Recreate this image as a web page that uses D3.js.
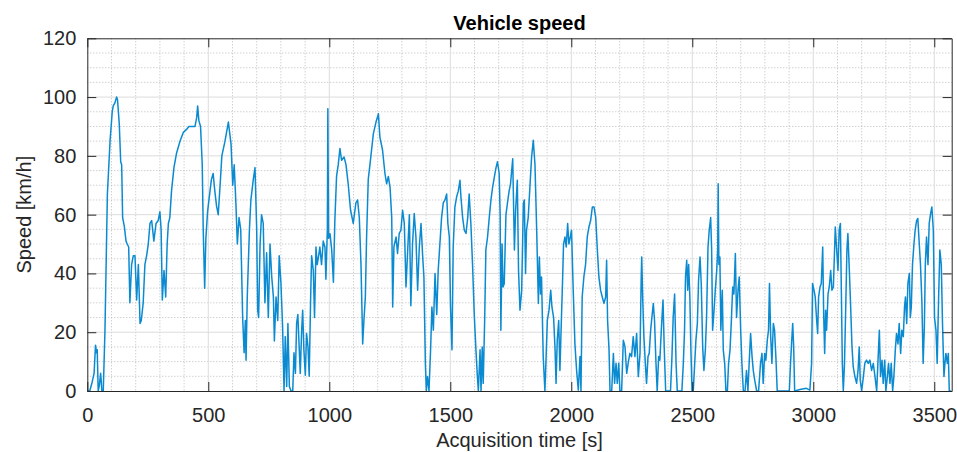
<!DOCTYPE html>
<html>
<head>
<meta charset="utf-8">
<script src="https://cdn.jsdelivr.net/npm/d3@7"></script>
<style>
  html, body { margin: 0; padding: 0; background: #fff; }
  svg { display: block; font-family: "Liberation Sans", Arial, Helvetica, sans-serif; }
</style>
</head>
<body>
<svg id="chart" width="957" height="452"></svg>
<script>
// Acquisition time [s]
const time = [
  0,10,20,28,34,38,41,45,50,55,58,60,66,73,83,94,103,107,114,121,125,132,138,142,146,153,160,165,171,176,
  183,190,197,204,211,218,223,231,238,245,252,259,266,275,284,293,300,305,310,317,324,330,335,341,348,358,369,383,397,410,
  420,431,445,452,456,461,468,475,479,485,490,497,507,513,520,527,534,541,548,556,569,583,594,601,607,614,620,627,634,642,
  648,653,656,661,670,676,686,693,700,704,708,714,720,727,734,741,748,755,762,769,773,780,787,793,800,807,813,818,824,829,
  835,842,849,854,860,865,870,876,880,886,890,895,901,906,912,917,923,927,934,939,945,950,956,961,968,975,982,986,992,994,
  997,1003,1010,1017,1023,1030,1037,1044,1051,1061,1069,1078,1088,1099,1110,1117,1124,1131,1138,1143,1149,1154,1161,1168,1182,1193,1203,1209,1220,1230,
  1237,1244,1251,1258,1262,1267,1276,1282,1289,1296,1303,1310,1317,1324,1331,1337,1344,1351,1358,1365,1372,1379,1386,1391,1397,1401,1406,1412,1419,1424,
  1430,1437,1444,1450,1457,1464,1471,1478,1485,1490,1496,1501,1507,1512,1519,1526,1533,1540,1544,1551,1558,1565,1572,1578,1585,1592,1599,1606,1612,1616,
  1623,1627,1632,1636,1642,1647,1654,1661,1668,1675,1682,1689,1695,1702,1706,1709,1714,1718,1723,1730,1736,1743,1749,1758,1765,1770,1777,1782,1788,1795,
  1802,1806,1811,1815,1822,1829,1836,1843,1850,1857,1864,1868,1873,1877,1884,1891,1895,1901,1908,1915,1920,1927,1933,1937,1942,1948,1953,1959,1964,1968,
  1974,1979,1985,1990,1996,2001,2008,2015,2022,2029,2036,2040,2045,2052,2059,2066,2073,2080,2087,2094,2101,2107,2114,2121,2128,2135,2142,2146,2150,2156,
  2160,2167,2174,2179,2185,2190,2196,2201,2208,2215,2222,2229,2235,2242,2249,2256,2263,2270,2277,2284,2289,2291,2295,2300,2306,2311,2317,2322,2328,2333,
  2339,2344,2350,2355,2361,2366,2372,2379,2384,2390,2410,2416,2421,2427,2433,2438,2457,2463,2468,2472,2477,2481,2485,2490,2494,2499,2504,2510,2515,2521,
  2526,2532,2537,2543,2548,2554,2559,2565,2570,2576,2580,2584,2590,2595,2601,2605,2607,2610,2614,2618,2624,2628,2634,2639,2645,2650,2656,2661,2667,2672,
  2678,2683,2689,2694,2700,2705,2711,2718,2724,2730,2735,2741,2747,2752,2758,2766,2774,2782,2788,2793,2799,2804,2810,2815,2819,2824,2829,2835,2840,2846,
  2851,2901,2906,2911,2915,2919,2923,2945,2972,2986,2993,2997,3003,3008,3014,3018,3022,3028,3033,3039,3043,3047,3051,3055,3061,3066,3072,3077,3083,3087,
  3091,3096,3102,3107,3112,3116,3120,3124,3129,3135,3139,3143,3149,3154,3160,3165,3172,3179,3185,3190,3194,3200,3207,3213,3220,3227,3234,3241,3248,3255,
  3262,3267,3273,3278,3284,3289,3295,3300,3306,3311,3317,3322,3328,3333,3339,3344,3350,3355,3361,3366,3372,3377,3381,3386,3391,3397,3401,3405,3410,3416,
  3421,3427,3432,3438,3443,3449,3454,3459,3463,3468,3474,3479,3485,3490,3496,3501,3507,3512,3518,3523,3529,3534,3540,3544,3548,3554,3558,3562,3570
];

// Vehicle speed [km/h]
const speed = [
  0,0,3,6,15.6,13,14,0,2,6,3,0,0,20.7,67,85,95,97,98,100,99,91,78,77,59,56,51,50,49,30,
  43,46,46,31,43,23,24,30,43,46,50,57,58,51,57,58,61,55,31,41,32,50,57,59,68,76,81,85,88,89,
  90,90,90,93,97,92,90,77,55,35,52,61,68,72,74,68,63,60,69,80,85,91.5,84,70,77,64,50,59,55,25,
  13,24,10.5,32,55,65,72,76,55,27.5,25,50,60,57,30,47,25,50,39,32,17,32,24,46,37,22,0,18.5,1.5,23,
  1.5,0,0,13,6,23,26,14,6,21,27.5,14,5.4,19.6,15,5,32,46,41,25,49,43,46,49,43,51,49,38,55,96,
  52,53.5,48,37,58,73,77,82.5,78.5,79.6,77,70.5,61.5,57,64,65,59,43,16,24,32,52,72,77,87.5,91.5,94.3,86.4,82,74,
  70.5,73,69.4,59,28.6,49,52.4,46.8,53.6,54.7,61.5,57,35.4,48,60,29,50,60.4,52.4,34.3,49,57,45.6,38.8,9.4,0,4.9,0,15,28.6,
  20.7,40,26,41,50,59,64,65,67,57,52.4,28.6,14,49,62.6,66,68,71.7,66,59,54.7,53.6,59,67,57,43,26,14,4.9,0,
  14,0,15,2.6,24,48,52.4,59,65,69.4,72.8,76,78,74,60,20.7,50,35.4,36.6,60,63.8,68,70.5,79,48,61.5,71.7,41,27.5,34.3,
  63.8,65,40,54.7,59,69.4,79.6,85.3,77,54.7,29.8,45.6,33,38.8,11.7,0,9.4,24,27.5,34.3,28.6,25,14,2.6,17.3,24,7,24,37.7,50,
  52.4,49,57,50,52.4,54.7,34.3,16,7,0.3,11.7,0,32,38.8,43,52.4,55.8,58,62.6,62.6,59,49,38.8,34.3,32,29.8,32,44.5,24,14,
  0,0,12.8,2.6,9.4,2.6,9.4,0,0,17.3,15,6,9.4,12.8,11.7,18.5,11.7,19.6,4.9,12.8,38.8,45.6,32,18.5,9.4,2.6,11.7,12.8,20.7,25,
  29.8,24,9.4,0,11.7,10.5,20.7,31,15,0,0,11.7,25,33,9.4,0,0,9.4,20.7,38.8,44.5,34.3,43,32,15,0,0,9.4,17.3,23,
  37.7,45.6,36.6,15,7,14,25,49,54.7,59,48,20.7,27.5,34.3,41,48,70.5,43,45.6,20.7,34.3,14,9.4,0,0,9.4,14,23,35.4,33,
  46.8,25,34.3,38.8,20.7,9.4,0,0,7,0,9.4,19.6,11.7,7,3.7,0,0,9.4,12.8,2.6,12.8,10.5,17.3,20.7,36.6,18.5,9.4,23,20.7,10.5,
  0,0,9.4,17.3,23,15,0,0.5,0.9,0.3,9.4,36.6,34.3,32,24,19.6,32,35.4,36.6,49,26,12.8,27.5,20.7,33,35.4,41,34.3,35.4,45.6,
  55.8,49,41,54.7,57,34.3,9.4,0,9.4,32,48,53.6,41,29.8,15,8.3,4.9,2.6,7,15,3.7,0,4.9,9.4,10.5,9.4,10.5,7,9.4,4.9,
  0,9.4,20.7,4.9,10.5,2.6,10.5,0,4.9,9.4,2.6,9.4,0,4.9,14,19.6,16,23,12.8,20.7,18.5,28.6,32,23,36.6,40,25,28.6,43,50,
  54.7,58,58.7,50,43,29.8,9.4,21.9,43,52.4,43,57,60.4,62.6,54.7,25,20.7,9.4,32,48,43,23,4.9,9.4,12.8,9.4,12.8,0,0
];

const xTicks = [0, 500, 1000, 1500, 2000, 2500, 3000, 3500];
const yTicks = [0, 20, 40, 60, 80, 100, 120];
const xMinorStep = 100;
const yMinorStep = 5;

const W = 957, H = 452;
const margin = { left: 87.3, right: 5.3, top: 38.3, bottom: 61 };
const iw = W - margin.left - margin.right;
const ih = H - margin.top - margin.bottom;

const svg = d3.select("#chart");
const g = svg.append("g").attr("transform", `translate(${margin.left},${margin.top})`);

const x = d3.scaleLinear().domain([0, 3572]).range([0, iw]);
const y = d3.scaleLinear().domain([0, 120]).range([ih, 0]);

const axisColor = "#262626";

// Minor grid (dotted)
const xMinor = d3.range(0, 3572, xMinorStep).filter(v => v % 500 !== 0);
const yMinor = d3.range(0, 120, yMinorStep).filter(v => v % 20 !== 0);
const minor = g.append("g").attr("stroke", "#b4b4b4").attr("stroke-width", 0.9)
  .attr("stroke-dasharray", "1,2");
minor.selectAll("line.vx").data(xMinor).join("line")
  .attr("x1", d => x(d)).attr("x2", d => x(d)).attr("y1", 0).attr("y2", ih);
minor.selectAll("line.hy").data(yMinor).join("line")
  .attr("x1", 0).attr("x2", iw).attr("y1", d => y(d)).attr("y2", d => y(d));

// Major grid (solid)
const major = g.append("g").attr("stroke", "#dcdcdc").attr("stroke-width", 1);
major.selectAll("line.vx").data(xTicks.filter(d => d > 0)).join("line")
  .attr("x1", d => x(d)).attr("x2", d => x(d)).attr("y1", 0).attr("y2", ih);
major.selectAll("line.hy").data(yTicks.filter(d => d > 0 && d < 120)).join("line")
  .attr("x1", 0).attr("x2", iw).attr("y1", d => y(d)).attr("y2", d => y(d));

// Speed trace
g.append("clipPath").attr("id", "plotClip").append("rect")
  .attr("x", 0).attr("y", -1).attr("width", iw).attr("height", ih + 2);
const line = d3.line().x((d, i) => x(time[i])).y(d => y(d));
g.append("path")
  .attr("clip-path", "url(#plotClip)")
  .attr("d", line(speed))
  .attr("fill", "none")
  .attr("stroke", "#0a8ad0")
  .attr("stroke-width", 1.5)
  .attr("stroke-linejoin", "round");

// Axes (ticks pointing inward, box on)
const tickLen = 9;
function styleAxis(sel) {
  sel.selectAll("path.domain").attr("stroke", axisColor).attr("stroke-width", 1);
  sel.selectAll(".tick line").attr("stroke", axisColor).attr("stroke-width", 1);
  sel.selectAll(".tick text").attr("fill", axisColor)
    .style("font-family", '"Liberation Sans", Arial, sans-serif').style("font-size", "20px");
}

const gx = g.append("g").attr("transform", `translate(0,${ih})`)
  .call(d3.axisBottom(x).tickValues(xTicks).tickSizeInner(-tickLen).tickSizeOuter(0).tickPadding(17).tickFormat(d3.format("d")));
styleAxis(gx);

const gxTop = g.append("g")
  .call(d3.axisTop(x).tickValues(xTicks).tickSizeInner(-tickLen).tickSizeOuter(0).tickFormat(""));
styleAxis(gxTop);

const gy = g.append("g")
  .call(d3.axisLeft(y).tickValues(yTicks).tickSizeInner(-tickLen).tickSizeOuter(0).tickPadding(11).tickFormat(d3.format("d")));
styleAxis(gy);

const gyRight = g.append("g").attr("transform", `translate(${iw},0)`)
  .call(d3.axisRight(y).tickValues(yTicks).tickSizeInner(-tickLen).tickSizeOuter(0).tickFormat(""));
styleAxis(gyRight);

// Title and axis labels
svg.append("text")
  .attr("x", margin.left + iw / 2).attr("y", 30)
  .attr("text-anchor", "middle")
  .attr("fill", "#000")
  .style("font-size", "20px").style("font-weight", "bold")
  .text("Vehicle speed");

svg.append("text")
  .attr("x", margin.left + iw / 2).attr("y", 447)
  .attr("text-anchor", "middle")
  .attr("fill", axisColor)
  .style("font-size", "20px")
  .text("Acquisition time [s]");

svg.append("text")
  .attr("transform", `translate(31,${margin.top + ih / 2}) rotate(-90)`)
  .attr("text-anchor", "middle")
  .attr("fill", axisColor)
  .style("font-size", "20px")
  .text("Speed [km/h]");
</script>
</body>
</html>
